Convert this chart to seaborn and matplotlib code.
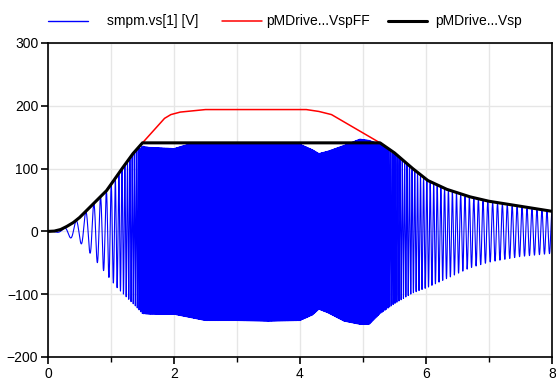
import numpy as np
import pandas as pd
import matplotlib
matplotlib.use("Agg")
import matplotlib.pyplot as plt
from matplotlib.lines import Line2D
import seaborn as sns

# ---- data ----
# Vsp (black): speed-voltage limit curve
vsp_t = [0.0, 0.1, 0.2, 0.3, 0.4, 0.5, 0.67, 0.8, 0.93, 1.05, 1.19, 1.35, 1.5,
         5.27, 5.5, 5.79, 6.03, 6.33, 6.7, 7.0, 7.5, 8.0]
vsp_v = [0.0, 0.5, 3.0, 8.0, 14.0, 22.0, 39.0, 52.0, 65.0, 82.0, 102.0, 124.0, 141.0,
         141.0, 125.0, 100.0, 81.0, 67.0, 55.0, 48.0, 40.0, 32.0]

# VspFF (red): feed-forward voltage
vff_t = [0.0, 0.1, 0.2, 0.3, 0.4, 0.5, 0.67, 0.8, 0.93, 1.05, 1.19, 1.35, 1.5,
         1.85, 1.95, 2.1, 2.3, 2.5, 4.1, 4.3, 4.5, 5.27, 5.5, 5.79, 6.03, 6.33,
         6.7, 7.0, 7.5, 8.0]
vff_v = [0.0, 0.5, 3.0, 8.0, 14.0, 22.0, 39.0, 52.0, 65.0, 82.0, 102.0, 124.0, 141.0,
         180.0, 186.0, 190.0, 192.0, 194.0, 194.0, 191.0, 186.0, 141.0, 125.0, 100.0,
         81.0, 67.0, 55.0, 48.0, 40.0, 32.0]

# smpm.vs[1] (blue): envelope key points and oscillation frequency key points
env_t = [0.0, 0.2, 0.35, 0.5, 0.67, 0.8, 0.98, 1.1, 1.25, 1.4, 1.5, 1.6, 2.0, 2.2,
         2.5, 3.0, 3.5, 4.0, 4.2, 4.3, 4.45, 4.7, 4.95, 5.1, 5.27, 5.5, 5.79, 6.03,
         6.33, 6.7, 7.0, 7.5, 8.0]
env_up = [0.0, 3.0, 9.0, 21.0, 38.0, 51.0, 70.0, 88.0, 108.0, 128.0, 136.0, 134.0,
          132.0, 138.0, 140.0, 140.0, 141.0, 139.0, 130.0, 124.0, 128.0, 137.0,
          147.0, 145.0, 139.0, 123.0, 98.0, 79.0, 65.0, 53.0, 46.0, 38.0, 30.0]
env_lo = [0.0, -2.0, -10.0, -17.0, -35.0, -52.0, -75.0, -90.0, -105.0, -120.0,
          -131.0, -132.0, -132.0, -136.0, -142.0, -142.0, -143.0, -142.0, -133.0,
          -124.0, -130.0, -143.0, -148.0, -148.0, -131.0, -115.0, -98.0, -89.0,
          -75.0, -58.0, -49.0, -40.0, -35.0]
freq_t = [0.0, 0.3, 0.6, 0.9, 1.0, 1.2, 1.4, 1.6, 1.9, 5.0, 5.3, 5.6, 6.0, 6.5,
          7.0, 8.0]
freq_hz = [3.0, 5.0, 7.0, 11.0, 14.0, 22.0, 32.0, 50.0, 80.0, 80.0, 45.0, 28.0,
           19.0, 15.0, 13.0, 12.5]

x_ticks = [0, 2, 4, 6, 8]
y_ticks = [-200, -100, 0, 100, 200, 300]
labels = ["smpm.vs[1] [V]", "pMDrive...VspFF", "pMDrive...Vsp"]
colors = ["#0000ff", "#ff0000", "#000000"]

# ---- build blue signal from the read envelope ----
t = np.linspace(0, 8, 40000)
up = np.interp(t, env_t, env_up)
lo = np.interp(t, env_t, env_lo)
f = np.interp(t, freq_t, freq_hz)
phase = 2 * np.pi * np.concatenate([[0], np.cumsum(0.5 * (f[1:] + f[:-1]) * np.diff(t))])
vs = (up + lo) / 2 + (up - lo) / 2 * np.cos(phase)

df_vs = pd.DataFrame({"t": t, "v": vs})
df_ff = pd.DataFrame({"t": vff_t, "v": vff_v})
df_sp = pd.DataFrame({"t": vsp_t, "v": vsp_v})

sns.set_theme(style="white")
plt.rcParams["font.family"] = ["Liberation Sans", "DejaVu Sans"]

W, H = 556, 380
fig = plt.figure(figsize=(W / 100, H / 100), dpi=100)
ax = fig.add_axes([48 / W, 1 - 357 / H, (552 - 48) / W, (357 - 43) / H])

widths = [0.8, 1.1, 2.2]
sns.lineplot(data=df_vs, x="t", y="v", ax=ax, color=colors[0], lw=widths[0],
             estimator=None, legend=False)
sns.lineplot(data=df_ff, x="t", y="v", ax=ax, color=colors[1], lw=widths[1],
             estimator=None, legend=False)
sns.lineplot(data=df_sp, x="t", y="v", ax=ax, color=colors[2], lw=widths[2],
             estimator=None, legend=False)

ax.set_xlim(0, 8)
ax.set_ylim(-200, 300)
ax.set_xticks(x_ticks)
ax.set_xticks([1, 3, 5, 7], minor=True)
ax.set_yticks(y_ticks)
ax.set_xlabel("")
ax.set_ylabel("")
ax.grid(True, which="both", color="#e6e6e6", lw=1.0)
ax.set_axisbelow(True)
for s in ax.spines.values():
    s.set_color("black")
    s.set_linewidth(1.2)
ax.tick_params(axis="both", which="major", direction="out", length=5, width=1.2,
               color="black", labelsize=10, labelcolor="black", pad=2,
               left=True, bottom=True)
ax.tick_params(axis="x", which="minor", direction="out", length=3.5, width=1.0,
               color="black", bottom=True)

# legend row above the plot (line segment + label per series)
leg_y = 1 - 21 / H
seg = [(48, 88), (222, 262), (388, 427)]
txt_x = [107, 266, 435]
for (x0, x1), tx, lab, c, lw in zip(seg, txt_x, labels, colors, widths):
    fig.add_artist(Line2D([x0 / W, x1 / W], [leg_y, leg_y], color=c,
                          lw=max(lw, 1.0), transform=fig.transFigure))
    fig.text(tx / W, leg_y, lab, fontsize=10, color="black", ha="left",
             va="center")

fig.savefig("out.png", dpi=100)
